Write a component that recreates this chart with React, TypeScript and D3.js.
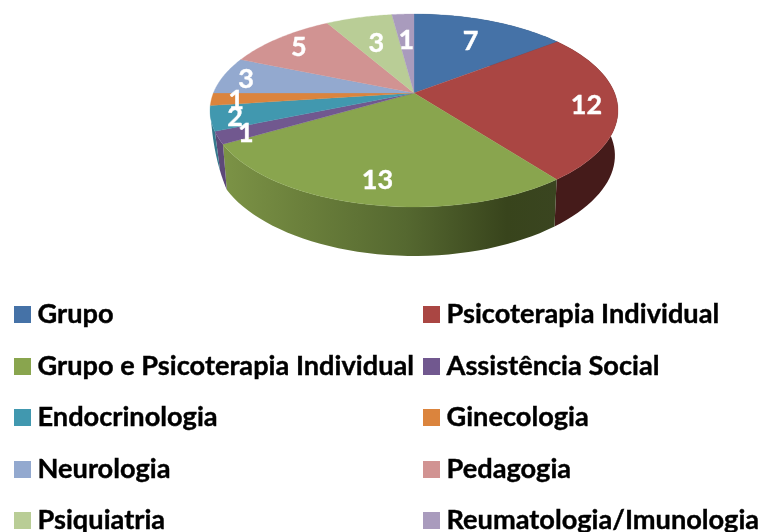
import React from "react";
import * as d3 from "d3";

const categories = ["Grupo","Psicoterapia Individual","Grupo e Psicoterapia Individual","Assistência Social","Endocrinologia","Ginecologia","Neurologia","Pedagogia","Psiquiatria","Reumatologia/Imunologia"];
const values = [7,12,13,1,2,1,3,5,3,1];
const colors = ["#4572A7","#AA4643","#89A54E","#71588F","#4198AF","#DB843D","#93A9CF","#D19392","#B9CD96","#A99BBD"];
const sideColors = ["#2c4768","#451b1a","#374219","#5d4878","#35798d","#a8642d","#6f83a3","#a07070","#8fa072","#85799a"];
const labelRadii = [0.71,0.85,0.8,0.87,0.885,0.88,0.88,0.84,0.65,0.65];

const CX = 414, CY = 93, A = 200.6, B = 93.3, K = 0.1813;
const project = (angle: number, r = 1): [number, number] => {
  const X = r * Math.sin(angle), Y = -r * Math.cos(angle), w = 1 - K * Y;
  return [CX + (A * X) / w, CY + (B * Y) / w];
};
const arcs = d3.pie<number>().value((d) => d).sort(null)(values);
// The rim of the base follows the top rim, narrower and lower, until the green slice ends;
// past that point it closes up towards the top rim, the way the reference's perspective does.
const [greenEnd, tealStart, tealEnd] = [arcs[2].endAngle, arcs[4].startAngle, arcs[4].endAngle];
const rimBase = (angle: number): [number, number] => {
  const [x, y] = project(angle);
  const Y = -Math.cos(angle);
  const sx = x > CX ? 0.985 : 0.98;
  return [CX + (x - CX) * sx, y + 45 + 4 * Math.pow(Math.max(0, Y), 3)];
};
const projectBottom = (angle: number): [number, number] => {
  if (angle <= greenEnd) return rimBase(angle);
  if (angle >= tealEnd) return project(angle);
  const P0 = rimBase(greenEnd);
  const P2 = project(tealEnd);
  const C: [number, number] = [P2[0] + 1.5, P2[1] + 48.5];
  const u = angle <= tealStart
    ? (0.25 * (angle - greenEnd)) / (tealStart - greenEnd)
    : 0.25 + (0.75 * (angle - tealStart)) / (tealEnd - tealStart);
  const v = 1 - u;
  return [v * v * P0[0] + 2 * u * v * C[0] + u * u * P2[0], v * v * P0[1] + 2 * u * v * C[1] + u * u * P2[1]];
};
const samples = (a0: number, a1: number) => d3.range(0, 41).map((i) => a0 + ((a1 - a0) * i) / 40);
const line = d3.line();

export default function App() {
  return (
    <svg width={766} height={532} style={{ position: "fixed", left: 0, top: 0, display: "block" }} fontFamily="Lato, 'Open Sans', sans-serif" fontWeight={700}>
      <defs>
        <linearGradient id="greenSide" gradientUnits="userSpaceOnUse" x1={222} x2={557} y1={0} y2={0}>
          <stop offset="0" stopColor="#7c9346" />
          <stop offset="0.25" stopColor="#6a7f3b" />
          <stop offset="0.55" stopColor="#556830" />
          <stop offset="0.85" stopColor="#38441c" />
          <stop offset="1" stopColor="#3a4520" />
        </linearGradient>
      </defs>
      {arcs.map((a, i) => {
        const s = samples(a.startAngle, a.endAngle);
        const pts = [...s.map((t) => project(t)), ...s.slice().reverse().map((t) => projectBottom(t))];
        return <path key={"side" + i} d={line(pts) + "Z"} fill={i === 2 ? "url(#greenSide)" : sideColors[i]} />;
      })}
      {arcs.map((a, i) => {
        const pts: [number, number][] = [[CX, CY], ...samples(a.startAngle, a.endAngle).map((t) => project(t))];
        return <path key={"top" + i} d={line(pts) + "Z"} fill={colors[i]} stroke={colors[i]} strokeWidth={0.3} />;
      })}
      {arcs.map((a, i) => {
        const [x, y] = project((a.startAngle + a.endAngle) / 2, labelRadii[i]);
        return (
          <text key={"lab" + i} x={x} y={y} dy="0.38em" textAnchor="middle" fill="#fff" stroke="#fff" strokeWidth={0.4} fontSize={27}>
            {a.data}
          </text>
        );
      })}
      {categories.map((c, i) => {
        const col = i % 2, row = Math.floor(i / 2);
        const x = col === 0 ? 14 : 423;
        const y = Math.round(306 + row * 51.5);
        return (
          <g key={c}>
            <rect x={x} y={y} width={17} height={17} fill={colors[i]} />
            <text x={x + 23.5} y={y + 17} fontSize={27.2} fill="#000" stroke="#000" strokeWidth={0.4}>{c}</text>
          </g>
        );
      })}
    </svg>
  );
}
